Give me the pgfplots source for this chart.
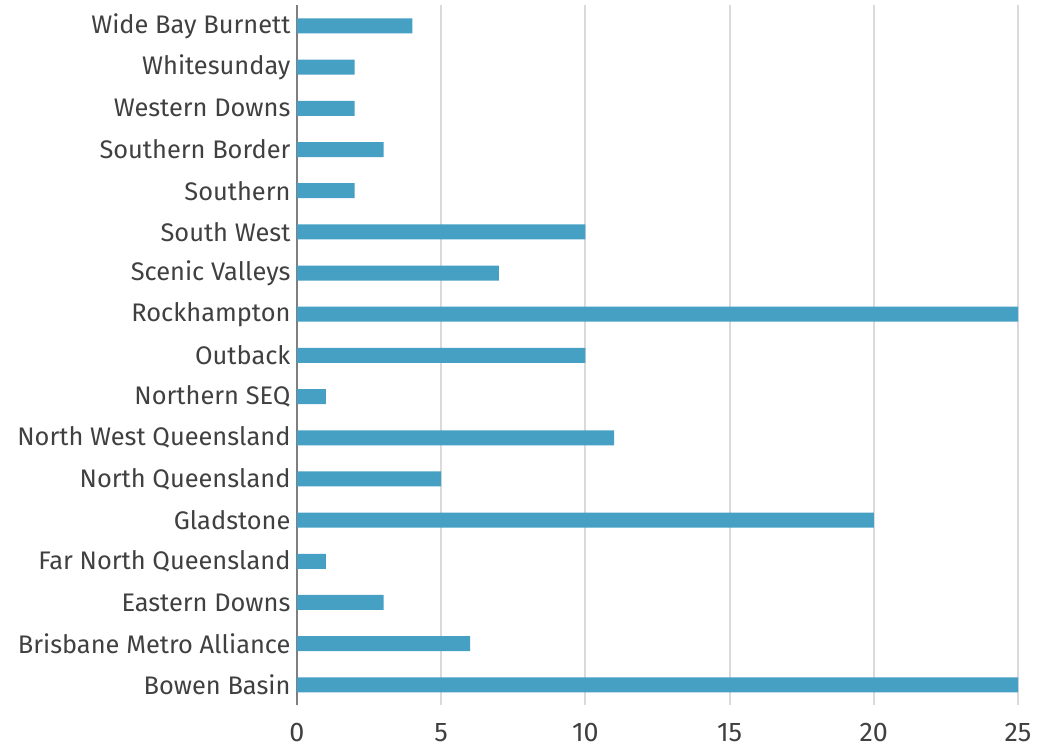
\documentclass[border=0pt]{standalone}
\usepackage{pgfplots}
\pgfplotsset{compat=1.18}
\usepackage{fontspec}
\setmainfont{Fira Sans}
\definecolor{barblue}{HTML}{45A0C4}
\definecolor{txt}{HTML}{404040}
\definecolor{gridc}{HTML}{DADADA}
\definecolor{axisc}{HTML}{7F7F7F}
\begin{document}
\begin{tikzpicture}[x=1bp,y=1bp]
\begin{axis}[
  scale only axis,
  width=721bp, height=700bp,
  xmin=0, xmax=25,
  ymin=-0.5, ymax=16.5,
  xbar, bar width=15bp,
  xtick={0,5,10,15,20,25},
  xticklabels={0,5,10,15,20,25},
  ytick={0,...,16},
  yticklabels={Bowen Basin,Brisbane Metro Alliance,Eastern Downs,Far North Queensland,Gladstone,North Queensland,North West Queensland,Northern SEQ,Outback,Rockhampton,Scenic Valleys,South West,Southern,Southern Border,Western Downs,Whitesunday,Wide Bay Burnett},
  xmajorgrids, major grid style={gridc, line width=2bp},
  major tick length=0pt,
  axis x line*=bottom,
  axis y line*=left,
  x axis line style={draw=none},
  y axis line style={axisc, line width=2.5bp},
  axis line style={-},
  yticklabel style={font=\fontsize{25.5}{30}\selectfont, text=txt, xshift=-3bp},
  xticklabel style={font=\fontsize{27}{32}\selectfont, text=txt, anchor=base, yshift=-36bp},
  clip=false,
]
\addplot[fill=barblue, draw=none] coordinates {
(25,0) (6,1) (3,2) (1,3) (20,4) (5,5) (11,6) (1,7) (10,8) (25,9) (7,10) (10,11) (2,12) (3,13) (2,14) (2,15) (4,16)};
\end{axis}
\pgfresetboundingbox
\path ([xshift=-297bp,yshift=-41.4bp]current axis.south west) rectangle ([xshift=20bp,yshift=5.4bp]current axis.north east);
\end{tikzpicture}
\end{document}
